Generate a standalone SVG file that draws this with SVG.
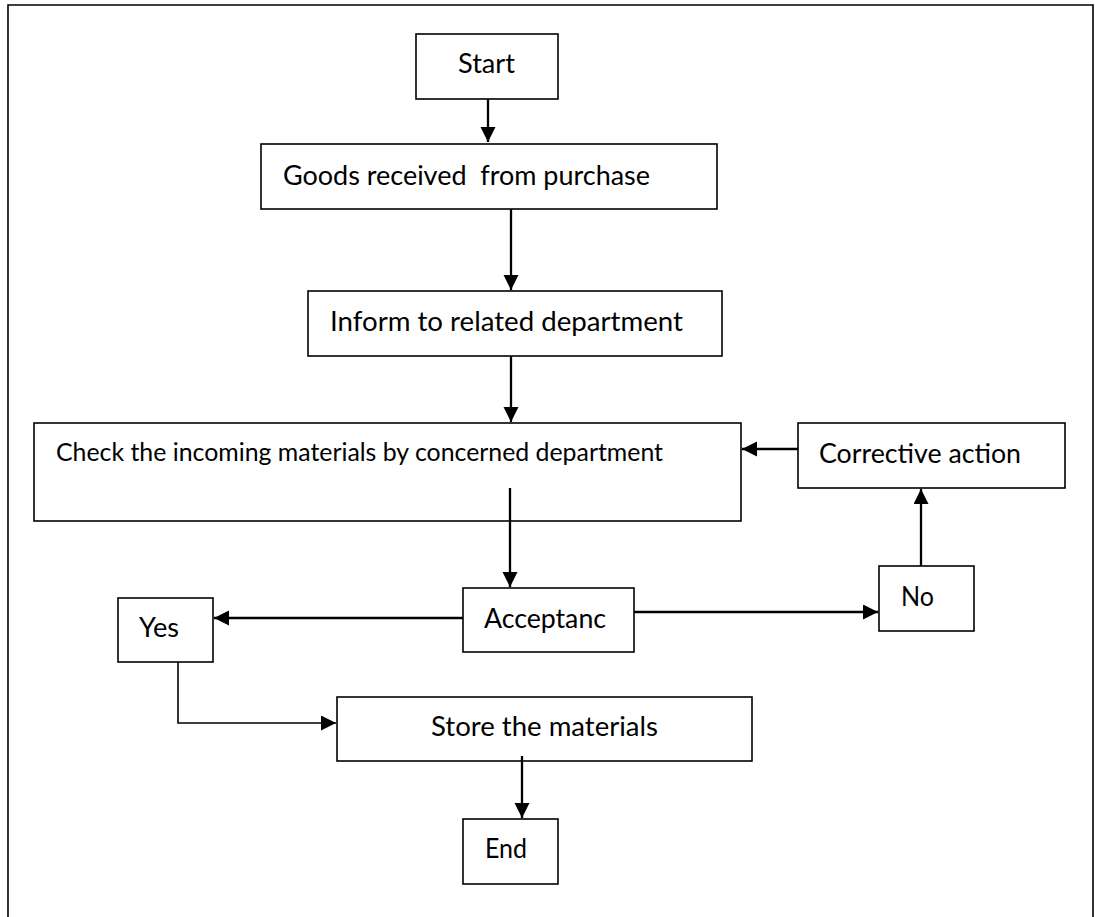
<svg xmlns="http://www.w3.org/2000/svg" width="1095" height="917" viewBox="0 0 1095 917">
  <style>
    .box { fill: #ffffff; stroke: #000000; stroke-width: 1.6; }
    .lbl { font-family: Lato, "Liberation Sans", sans-serif; font-size: 27px; fill: #000000; }
    .lbl-sm { font-size: 25px; }
    .conn { fill: none; stroke: #000000; stroke-width: 2.3; }
    .conn-thin { stroke-width: 1.6; }
    .frame { fill: none; stroke: #000000; stroke-width: 1.6; }
  </style>
  <defs>
    <marker id="arrow" markerUnits="userSpaceOnUse" markerWidth="16" markerHeight="16" refX="15" refY="7.5" orient="auto">
      <path d="M0,0 L15,7.5 L0,15 z" fill="#000000"/>
    </marker>
  </defs>

  <rect width="1095" height="917" fill="#ffffff"/>
  <!-- page border (open at the bottom) -->
  <path class="frame" d="M8,917 V5 H1093 V917"/>

  <g id="start">
    <rect class="box" x="416" y="34" width="142" height="65"/>
    <text class="lbl" x="458" y="73" textLength="57" lengthAdjust="spacingAndGlyphs">Start</text>
  </g>
  <g id="goods-received">
    <rect class="box" x="261" y="144" width="456" height="65"/>
    <text class="lbl" x="283" y="185" xml:space="preserve" textLength="367" lengthAdjust="spacingAndGlyphs">Goods received  from purchase</text>
  </g>
  <g id="inform-department">
    <rect class="box" x="308" y="291" width="414" height="65"/>
    <text class="lbl" x="330" y="331" textLength="353" lengthAdjust="spacingAndGlyphs">Inform to related department</text>
  </g>
  <g id="check-materials">
    <rect class="box" x="34" y="423" width="707" height="98"/>
    <text class="lbl lbl-sm" x="56" y="461" textLength="607" lengthAdjust="spacingAndGlyphs">Check the incoming materials by concerned department</text>
  </g>
  <g id="corrective-action">
    <rect class="box" x="798" y="423" width="267" height="65"/>
    <text class="lbl" x="819" y="463" textLength="202" lengthAdjust="spacingAndGlyphs">Corrective action</text>
  </g>
  <g id="acceptance">
    <rect class="box" x="463" y="588" width="171" height="64"/>
    <text class="lbl" x="484" y="628" textLength="122" lengthAdjust="spacingAndGlyphs">Acceptanc</text>
  </g>
  <g id="no">
    <rect class="box" x="879" y="566" width="95" height="65"/>
    <text class="lbl" x="901" y="606" textLength="33" lengthAdjust="spacingAndGlyphs">No</text>
  </g>
  <g id="yes">
    <rect class="box" x="118" y="598" width="95" height="64"/>
    <text class="lbl" x="139" y="637" textLength="40" lengthAdjust="spacingAndGlyphs">Yes</text>
  </g>
  <g id="store-materials">
    <rect class="box" x="337" y="697" width="415" height="64"/>
    <text class="lbl" x="431" y="736" textLength="227" lengthAdjust="spacingAndGlyphs">Store the materials</text>
  </g>
  <g id="end">
    <rect class="box" x="463" y="819" width="95" height="65"/>
    <text class="lbl" x="485" y="858" textLength="42" lengthAdjust="spacingAndGlyphs">End</text>
  </g>

  <g id="connectors">
    <line class="conn" x1="488" y1="99" x2="488" y2="142" marker-end="url(#arrow)"/>
    <line class="conn" x1="511" y1="209" x2="511" y2="290" marker-end="url(#arrow)"/>
    <line class="conn" x1="511" y1="356" x2="511" y2="422" marker-end="url(#arrow)"/>
    <line class="conn" x1="510" y1="488" x2="510" y2="587" marker-end="url(#arrow)"/>
    <line class="conn" x1="463" y1="618" x2="214" y2="618" marker-end="url(#arrow)"/>
    <line class="conn" x1="634" y1="612" x2="878" y2="612" marker-end="url(#arrow)"/>
    <line class="conn" x1="921" y1="566" x2="921" y2="489" marker-end="url(#arrow)"/>
    <line class="conn" x1="798" y1="449" x2="742" y2="449" marker-end="url(#arrow)"/>
    <polyline class="conn conn-thin" points="178,662 178,723 336,723" marker-end="url(#arrow)"/>
    <line class="conn" x1="522" y1="756" x2="522" y2="818" marker-end="url(#arrow)"/>
  </g>
</svg>
